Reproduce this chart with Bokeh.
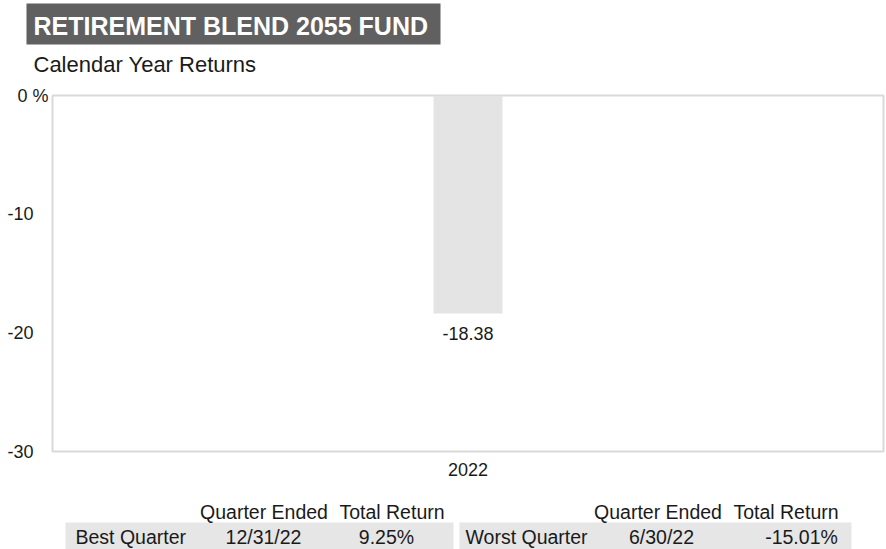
from bokeh.plotting import figure
from bokeh.layouts import column
from bokeh.models import (Range1d, FactorRange, Label, LabelSet, BoxAnnotation,
                          ColumnDataSource, FixedTicker)
from bokeh.core.properties import value
from bokeh.embed import file_html
from bokeh.resources import INLINE

# ---- data ----
years = ["2022"]
returns = [-18.38]
return_labels = ["-18.38"]
y_ticks = [0, -10, -20, -30]
y_tick_labels = ["0 %", "-10", "-20", "-30"]
title_text = "RETIREMENT BLEND 2055 FUND"
subtitle_text = "Calendar Year Returns"
table_headers = ["Quarter Ended", "Total Return"]
quarter_names = ["Best Quarter", "Worst Quarter"]
quarter_dates = ["12/31/22", "6/30/22"]
quarter_returns = ["9.25%", "-15.01%"]

# ---- layout constants ----
W = 886
FONT = "Liberation Sans"
TXT = "#1a1a1a"
NB = "\u00a0"


def blank_fig(h):
    f = figure(width=W, height=h, x_range=Range1d(0, W), y_range=Range1d(0, h),
               x_axis_type=None, y_axis_type=None, output_backend="svg",
               toolbar_location=None, min_border=0, frame_align=False)
    f.outline_line_color = None
    f.grid.visible = False
    return f


def add_label(f, h, X, Y, text, size="19.5px", align="left", color=TXT, style="normal"):
    f.add_layout(Label(x=X, y=h - Y, x_units="screen", y_units="screen", text=text,
                       text_align=align, text_baseline="middle",
                       text_font=FONT, text_font_size=size, text_color=color,
                       text_font_style=style))


def add_box(f, h, X0, X1, Y0, Y1, color):
    f.add_layout(BoxAnnotation(left=X0, right=X1, top=h - Y0, bottom=h - Y1,
                               left_units="screen", right_units="screen",
                               top_units="screen", bottom_units="screen",
                               fill_color=color, fill_alpha=1, line_color=None))


# ---- header ----
HH = 80
head = blank_fig(HH)
add_box(head, HH, 26, 440, 3, 44, "#606060")
add_label(head, HH, 33, 25, title_text, size="25px", color="white", style="bold")
add_label(head, HH, 33, 64, subtitle_text, size="22px")

# ---- main chart ----
p = figure(width=W, height=410, x_range=FactorRange(*years), y_range=Range1d(-30, 0),
           output_backend="svg", toolbar_location=None, frame_align=False,
           min_border_left=52, min_border_right=3,
           min_border_top=15, min_border_bottom=39)
p.outline_line_color = "#d9d9d9"
p.outline_line_width = 2
p.grid.visible = False
p.background_fill_color = "white"
p.border_fill_color = "white"

p.yaxis.ticker = FixedTicker(ticks=y_ticks)
p.yaxis.major_label_overrides = {v: (t if "%" in t else t + NB * 3)
                                 for v, t in zip(y_ticks, y_tick_labels)}
for ax in (p.xaxis, p.yaxis):
    ax.axis_line_color = None
    ax.major_tick_line_color = None
    ax.minor_tick_line_color = None
    ax.major_tick_out = 0
    ax.major_tick_in = 0
    ax.minor_tick_out = 0
    ax.major_label_text_font_size = "18px"
    ax.major_label_text_font = FONT
    ax.major_label_text_color = TXT
p.yaxis.major_label_standoff = 4
p.xaxis.major_label_standoff = 11

src = ColumnDataSource(dict(x=years, top=returns, lab=return_labels))
p.vbar(x="x", top="top", bottom=0, width=0.083, source=src,
       fill_color="#e4e4e4", line_color=None)
p.add_layout(LabelSet(x="x", y="top", text="lab", source=src, y_offset=-20,
                      text_align="center", text_baseline="middle",
                      text_font=value(FONT), text_font_size=value("18px"),
                      text_color=TXT))

# ---- table ----
TH = 59
tab = blank_fig(TH)
add_box(tab, TH, 65, 453, 32, 59, "#e6e6e6")
add_box(tab, TH, 459, 851, 32, 59, "#e6e6e6")
hdr_y, row_y = 21, 46
name_x = [75, 465]
date_x = [263, 661]
ret_x = [386, 801]
qe_x = [263.5, 657.5]
tr_x = [391.5, 785.5]
for i in range(2):
    add_label(tab, TH, qe_x[i], hdr_y, table_headers[0], align="center")
    add_label(tab, TH, tr_x[i], hdr_y, table_headers[1], align="center")
    add_label(tab, TH, name_x[i], row_y, quarter_names[i])
    add_label(tab, TH, date_x[i], row_y, quarter_dates[i], align="center")
    add_label(tab, TH, ret_x[i], row_y, quarter_returns[i], align="center")

layout = column(head, p, tab, spacing=0)
open("out.html", "w").write(file_html(layout, INLINE))
